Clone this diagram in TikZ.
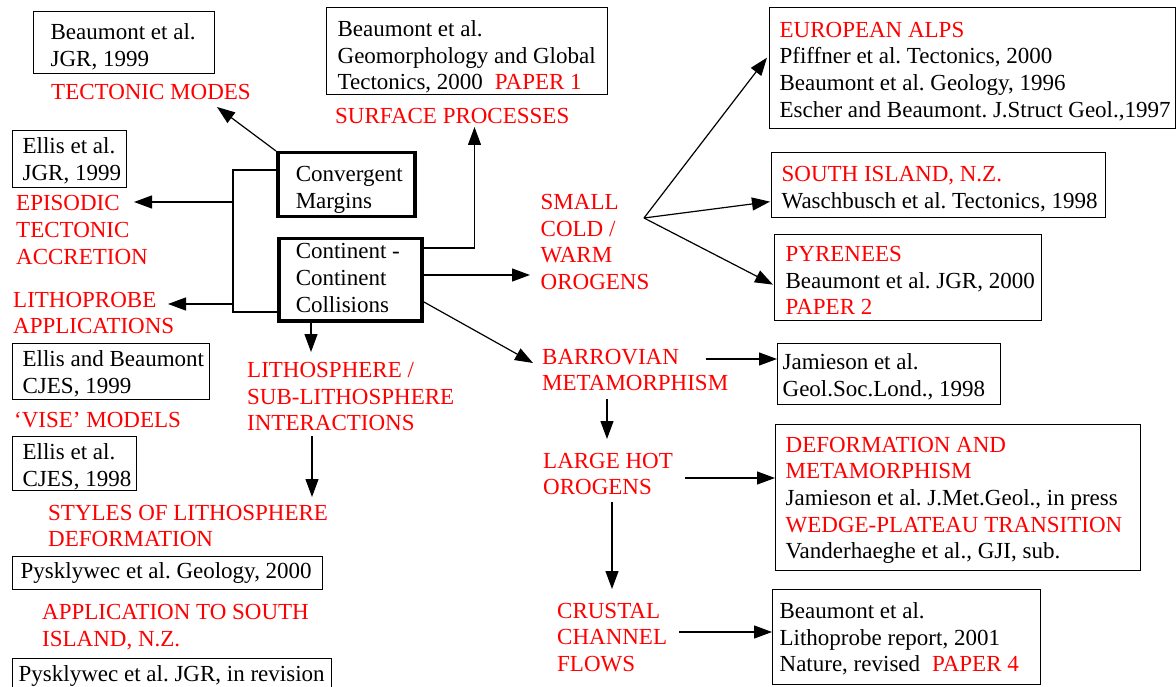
\documentclass[tikz,border=0pt]{standalone}
\usepackage{fontspec}
\setmainfont{Liberation Serif}
\usetikzlibrary{arrows.meta,calc}
\definecolor{lblred}{RGB}{255,0,0}
\frenchspacing
\newcommand\bx[3][0pt]{\raisebox{-#1}[\height][\depth]{\makebox[#2][l]{\begin{tabular}{@{}l@{}}#3\end{tabular}}}}
\begin{document}
\begin{tikzpicture}[x=1pt,y=-1pt,
  every node/.style={font=\fontsize{23}{26.7}\selectfont},
  refbox/.style={draw, line width=1.3pt, anchor=north west, inner ysep=0pt},
  thickbox/.style={refbox, line width=3.5pt},
  lbl/.style={text=lblred, anchor=west, align=left, inner sep=0pt},
  arr/.style={line width=1.2pt, -{Triangle[length=18pt,width=13pt]}},
  ln/.style={line width=1.2pt}]
\useasboundingbox (0,0) rectangle (1176,687);
\fill[white] (0,0) rectangle (1176,687);

% left column
\node[refbox, minimum width=181pt, minimum height=62pt, inner xsep=17pt] (b1) at (33,11) {\bx[5.3pt]{147pt}{Beaumont et al.\\JGR, 1999}};
\node[lbl] (tm) at (51,92) {TECTONIC MODES};
\node[refbox, minimum width=114pt, minimum height=57pt, inner xsep=10pt] (b3) at (12,130) {\bx[2.8pt]{94pt}{Ellis et al.\\JGR, 1999}};
\node[lbl] (epi) at (16,230) {EPISODIC\\TECTONIC\\ACCRETION};
\node[lbl] (lp) at (13,313) {LITHOPROBE\\APPLICATIONS};
\node[refbox, minimum width=197pt, minimum height=56pt, inner xsep=10pt] (b4) at (12,343) {\bx[2.8pt]{177pt}{Ellis and Beaumont\\CJES, 1999}};
\node[lbl] (vise) at (14,420) {‘VISE’ MODELS};
\node[refbox, minimum width=124pt, minimum height=54pt, inner xsep=10pt] (b5) at (12,436) {\bx[4.3pt]{104pt}{Ellis et al.\\CJES, 1998}};
\node[lbl] (styles) at (48,526) {STYLES OF LITHOSPHERE\\DEFORMATION};
\node[refbox, minimum width=310pt, minimum height=33pt, inner xsep=8pt] (b6) at (12,556) {\bx{294pt}{Pysklywec et al. Geology, 2000}};
\node[lbl] (appl) at (42,627.5) {APPLICATION TO SOUTH\\ISLAND, N.Z.};
\node[refbox, minimum width=319pt, minimum height=36pt, inner xsep=6pt] (b7) at (12,658) {\bx{307pt}{Pysklywec et al. JGR, in revision}};

% centre
\node[refbox, minimum width=281pt, minimum height=87pt, inner xsep=11pt] (b2) at (326,7) {\bx[6.8pt]{259pt}{Beaumont et al.\\Geomorphology and Global\\Tectonics, 2000\hspace{12pt}\textcolor{lblred}{PAPER 1}}};
\node[lbl] (surf) at (335,116.5) {SURFACE PROCESSES};
\node[thickbox, minimum width=137pt, minimum height=64pt, inner xsep=18pt] (conv) at (276,151) {\bx[4.8pt]{101pt}{Convergent\\Margins}};
\node[thickbox, minimum width=143pt, minimum height=82pt, inner xsep=17pt] (cont) at (277,237) {\bx[0.6pt]{109pt}{Continent -\\Continent\\Collisions}};
\node[lbl] (lithos) at (247,396.5) {LITHOSPHERE /\\SUB-LITHOSPHERE\\INTERACTIONS};

% right part
\node[lbl] (small) at (540.5,242) {SMALL\\COLD /\\WARM\\OROGENS};
\node[lbl] (barr) at (542,370) {BARROVIAN\\METAMORPHISM};
\node[lbl] (large) at (543,474) {LARGE HOT\\OROGENS};
\node[lbl] (crust) at (557,637.5) {CRUSTAL\\CHANNEL\\FLOWS};

\node[refbox, minimum width=406pt, minimum height=121pt, inner xsep=10pt] (alps) at (769,7) {\bx[3.8pt]{386pt}{\textcolor{lblred}{EUROPEAN ALPS}\\Pfiffner et al. Tectonics, 2000\\Beaumont et al. Geology, 1996\\Escher and Beaumont. J.Struct Geol.,1997}};
\node[refbox, minimum width=334pt, minimum height=65pt, inner xsep=10pt] (south) at (771,152) {\bx[4.3pt]{314pt}{\textcolor{lblred}{SOUTH ISLAND, N.Z.}\\Waschbusch et al. Tectonics, 1998}};
\node[refbox, minimum width=267pt, minimum height=86pt, inner xsep=11pt] (pyr) at (774,234) {\bx[5.3pt]{245pt}{\textcolor{lblred}{PYRENEES}\\Beaumont et al. JGR, 2000\\\textcolor{lblred}{PAPER 2}}};
\node[refbox, minimum width=223pt, minimum height=61pt, inner xsep=5pt] (jam) at (777,343) {\bx[3.3pt]{213pt}{Jamieson et al.\\Geol.Soc.Lond., 1998}};
\node[refbox, minimum width=365pt, minimum height=146pt, inner xsep=10pt] (def) at (775,424) {\bx[2.5pt]{345pt}{\textcolor{lblred}{DEFORMATION AND}\\\textcolor{lblred}{METAMORPHISM}\\Jamieson et al. J.Met.Geol., in press\\\textcolor{lblred}{WEDGE-PLATEAU TRANSITION}\\Vanderhaeghe et al., GJI, sub.}};
\node[refbox, minimum width=268pt, minimum height=95pt, inner xsep=7pt] (last) at (772,589) {\bx[2.8pt]{254pt}{Beaumont et al.\\Lithoprobe report, 2001\\Nature, revised\hspace{12pt}\textcolor{lblred}{PAPER 4}}};

% connector ends
\coordinate (tmtip) at (217,107);
\coordinate (brtop) at (233,170);
\coordinate (brbot) at (233,312);
\coordinate (epitip) at (134,202);
\coordinate (lptip) at (168,304);
\coordinate (surftip) at (474.5,127);
\coordinate (smalltip) at (530,275);
\coordinate (barrtip) at (533,363);
\coordinate (lstip) at (311,352);
\coordinate (sttip) at (312,497);
\coordinate (fan) at (644,218);
\coordinate (barrout) at (705.5,359);
\coordinate (bltip) at (607,439);
\coordinate (largeout) at (685,478);
\coordinate (lctip) at (612,589);
\coordinate (crustout) at (679,632);

% connectors
\draw[arr] (conv.north west) -- (tmtip);
\draw[ln] (conv.west |- brtop) -- (brtop) -- (brbot) -- (cont.west |- brbot);
\draw[arr] (brtop |- epitip) -- (epitip);
\draw[arr] (brtop |- lptip) -- (lptip);
\draw[arr] ($(cont.north east)+(0,11)$) -| (surftip);
\draw[arr] (cont.east |- smalltip) -- (smalltip);
\draw[arr] ($(cont.east)+(0,22)$) -- (barrtip);
\draw[arr] (cont.south -| lstip) -- (lstip);
\draw[arr] ($(lithos.south -| sttip)+(0,5)$) -- (sttip);
\draw[arr] (fan) -- ($(alps.west)+(-2,-10.5)$);
\draw[arr] (fan) -- ($(south.west)+(-1,16.5)$);
\draw[arr] (fan) -- ($(pyr.west)+(-1,7)$);
\draw[arr] (barrout) -- (jam.west |- barrout);
\draw[arr] ($(barr.south -| bltip)+(0,8)$) -- (bltip);
\draw[arr] (largeout) -- (def.west |- largeout);
\draw[arr] ($(large.south -| lctip)+(0,7)$) -- (lctip);
\draw[arr] (crustout) -- (last.west |- crustout);
\end{tikzpicture}
\end{document}
